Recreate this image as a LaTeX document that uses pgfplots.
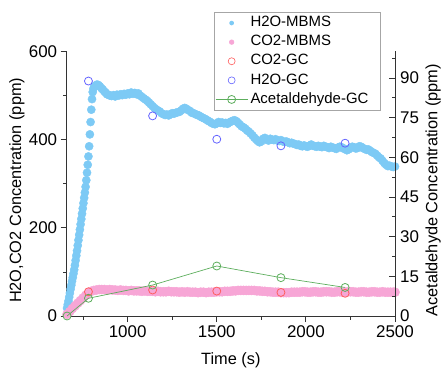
\documentclass[border=0pt]{standalone}
\usepackage{pgfplots}
\pgfplotsset{compat=1.18}
\usepackage{fontspec}
\setmainfont{Liberation Sans}

\definecolor{mbmsblue}{HTML}{7DCAF5}
\definecolor{mbmspink}{HTML}{F7A6D6}
\definecolor{gcred}{HTML}{FF5F5F}
\definecolor{gcblue}{HTML}{6464FF}
\definecolor{gcgreen}{HTML}{5DAE5D}
\definecolor{axisgray}{HTML}{333333}

\pgfplotsset{
  common/.style={
    width=328.3bp, height=264.5bp, scale only axis,
    xmin=658, xmax=2500,
    clip=false,
    axis line style={axisgray, line width=0.8bp},
    every tick/.style={axisgray, line width=0.8bp},
    major tick length=6bp, minor tick length=3.5bp,
    tick label style={font=\fontsize{17}{20}\selectfont},
    label style={font=\fontsize{16.4}{19}\selectfont},
    /pgf/number format/assume math mode=true,
    /pgf/number format/1000 sep={},
  },
}

\begin{document}
\begin{tikzpicture}
\useasboundingbox (-66.7bp,-56bp) rectangle (377.3bp,316bp);

% left axis: H2O and CO2 (MBMS and GC)
\begin{axis}[common,
  ymin=0, ymax=600,
  axis x line*=bottom, axis y line*=left,
  tick align=outside,
  xtick={1000,1500,2000,2500}, minor xtick={750,1250,1750,2250},
  ytick={0,200,400,600}, minor ytick={100,300,500},
  xticklabel style={inner sep=3.5bp},
  yticklabel style={inner sep=3.4bp},
  xlabel={Time (s)},
  xlabel style={at={(axis description cs:0.5,-0.1664)}, anchor=center},
  ylabel={H2O,CO2 Concentration (ppm)},
  ylabel style={at={(axis description cs:-0.1514,0.475)}, anchor=center, rotate=0},
]
% H2O from the mass spectrometer
\addplot[only marks, mark=*, mark size=4.1bp, color=mbmsblue, mark options={draw=none, fill=mbmsblue}] coordinates {
(660,18) (664,26) (668,34) (672,43) (676,52) (680,61) (684,70) (688,79) (692,87) (696,96)
(700,105) (704,115) (708,126) (712,137) (716,148) (720,160) (724,172) (728,184) (732,196) (736,208)
(740,220) (744,232) (748,244) (752,256) (756,268) (760,280) (764,293) (768,308) (772,325) (776,343)
(780,362) (784,385) (788,412) (792,440) (796,468) (800,492) (804,508) (808,516) (814,521) (820,523)
(828,525) (836,524) (844,521) (852,517) (860,514) (868,510) (876,507) (884,503) (892,502) (900,500)
(910,499) (920,501) (930,498) (940,502) (950,500) (960,503) (970,501) (980,504) (990,502) (1000,505)
(1010,503) (1020,507) (1030,504) (1040,506) (1050,503) (1060,505) (1070,500) (1080,497) (1090,494) (1100,491)
(1110,488) (1120,484) (1130,480) (1140,476) (1150,472) (1160,469) (1170,466) (1180,464) (1190,460) (1200,458)
(1210,456) (1220,457) (1230,455) (1240,458) (1250,460) (1260,459) (1270,461) (1280,462) (1290,463) (1300,466)
(1310,470) (1320,472) (1330,470) (1340,467) (1350,465) (1360,461) (1370,460) (1380,458) (1390,456) (1400,455)
(1410,452) (1420,450) (1430,448) (1440,446) (1450,443) (1460,441) (1470,438) (1480,436) (1490,435) (1500,437)
(1510,440) (1520,438) (1530,439) (1540,437) (1550,438) (1560,436) (1570,439) (1580,441) (1590,443) (1600,444)
(1610,442) (1620,438) (1630,434) (1640,430) (1650,428) (1660,425) (1670,421) (1680,418) (1690,414) (1700,410)
(1710,405) (1720,401) (1730,397) (1740,394) (1750,396) (1760,402) (1770,404) (1780,400) (1790,398) (1800,402)
(1810,400) (1820,399) (1830,401) (1840,398) (1850,397) (1860,399) (1870,396) (1880,395) (1890,396) (1900,394)
(1910,392) (1920,393) (1930,391) (1940,390) (1950,388) (1960,389) (1970,386) (1980,385) (1990,387) (2000,385)
(2010,384) (2020,386) (2030,389) (2040,386) (2050,385) (2060,384) (2070,386) (2080,384) (2090,383) (2100,386)
(2110,384) (2120,383) (2130,381) (2140,384) (2150,382) (2160,381) (2170,379) (2180,382) (2190,384) (2200,383)
(2210,380) (2220,379) (2230,376) (2240,378) (2250,381) (2260,384) (2270,383) (2280,380) (2290,381) (2300,385)
(2310,384) (2320,381) (2330,379) (2340,377) (2350,378) (2360,375) (2370,372) (2380,370) (2390,368) (2400,364)
(2410,360) (2420,357) (2430,352) (2440,347) (2450,343) (2460,340) (2470,341) (2480,339) (2490,338) (2500,339)
};
% CO2 from the mass spectrometer
\addplot[only marks, mark=*, mark size=4.6bp, color=mbmspink, mark options={draw=none, fill=mbmspink}] coordinates {
(660,4) (675,10) (690,17) (705,23) (720,29) (735,35) (750,41) (765,47) (780,52) (795,56)
(810,58) (825,59) (840,60) (855,60) (870,60) (885,59) (900,60) (915,59) (930,59) (945,58)
(960,59) (975,58) (990,58) (1005,57) (1020,58) (1035,57) (1050,57) (1065,57) (1080,56) (1095,57)
(1110,56) (1125,56) (1140,56) (1155,55) (1170,56) (1185,55) (1200,55) (1215,55) (1230,56) (1245,55)
(1260,55) (1275,55) (1290,54) (1305,55) (1320,54) (1335,55) (1350,54) (1365,54) (1380,54) (1395,53)
(1410,54) (1425,54) (1440,53) (1455,54) (1470,54) (1485,54) (1500,55) (1515,55) (1530,55) (1545,56)
(1560,56) (1575,56) (1590,57) (1605,57) (1620,58) (1635,58) (1650,58) (1665,58) (1680,58) (1695,58)
(1710,58) (1725,57) (1740,57) (1755,56) (1770,56) (1785,55) (1800,55) (1815,54) (1830,54) (1845,54)
(1860,53) (1875,53) (1890,53) (1905,53) (1920,54) (1935,54) (1950,54) (1965,54) (1980,55) (1995,55)
(2010,54) (2025,54) (2040,55) (2055,55) (2070,54) (2085,54) (2100,55) (2115,55) (2130,55) (2145,54)
(2160,54) (2175,55) (2190,55) (2205,54) (2220,54) (2235,55) (2250,55) (2265,55) (2280,54) (2295,54)
(2310,55) (2325,55) (2340,54) (2355,54) (2370,55) (2385,55) (2400,54) (2415,54) (2430,55) (2445,54)
(2460,54) (2475,54) (2490,54) (2500,54)
};
% GC samples
\addplot[only marks, mark=o, mark size=4bp, color=gcred, mark options={fill=white, line width=0.8bp}] coordinates {
(780,55) (1140,59) (1500,56.5) (1860,53.5) (2220,51.5)
};
\addplot[only marks, mark=o, mark size=4bp, color=gcblue, mark options={fill=white, line width=0.8bp}] coordinates {
(780,533) (1140,454) (1500,401) (1860,386) (2220,392)
};
\end{axis}

% right axis: acetaldehyde
\begin{axis}[common,
  ymin=0, ymax=100,
  hide x axis,
  axis y line*=right,
  tick align=inside,
  ytick={0,15,30,45,60,75,90}, minor ytick={7.5,22.5,37.5,52.5,67.5,82.5,97.5},
  yticklabel style={inner sep=5bp},
  ylabel={Acetaldehyde Concentration (ppm)},
  ylabel style={at={(axis description cs:1.116,0.475)}, anchor=center, rotate=0},
  legend style={
    at={(axis description cs:0.4487,1.1505)}, anchor=north west,
    draw=gray!70, line width=0.6bp, fill=white,
    inner xsep=1bp, inner ysep=1.5bp,
    font=\fontsize{15}{18}\selectfont,
    nodes={inner sep=2.5bp, text height=10.8bp, text depth=3.3bp},
  },
  legend cell align=left,
  legend image code/.code={
    \draw[mark repeat=2, mark phase=2, #1] plot coordinates {(0bp,0bp) (16bp,0bp) (32bp,0bp)};
  },
]
\addlegendimage{only marks, mark=*, mark size=2bp, color=mbmsblue, mark options={draw=none, fill=mbmsblue}}
\addlegendentry{H2O-MBMS}
\addlegendimage{only marks, mark=*, mark size=2.3bp, color=mbmspink, mark options={draw=none, fill=mbmspink}}
\addlegendentry{CO2-MBMS}
\addlegendimage{only marks, mark=o, mark size=3.5bp, color=gcred, mark options={fill=white, line width=0.6bp}}
\addlegendentry{CO2-GC}
\addlegendimage{only marks, mark=o, mark size=3.5bp, color=gcblue, mark options={fill=white, line width=0.6bp}}
\addlegendentry{H2O-GC}
\addplot[color=gcgreen, line width=0.7bp, mark=o, mark size=4bp, mark options={fill=white, line width=0.8bp}] coordinates {
(660,0) (780,6.7) (1140,11.7) (1500,18.9) (1860,14.5) (2220,10.8)
};
\addlegendentry{Acetaldehyde-GC\kern 8bp}
\end{axis}
\end{tikzpicture}
\end{document}
